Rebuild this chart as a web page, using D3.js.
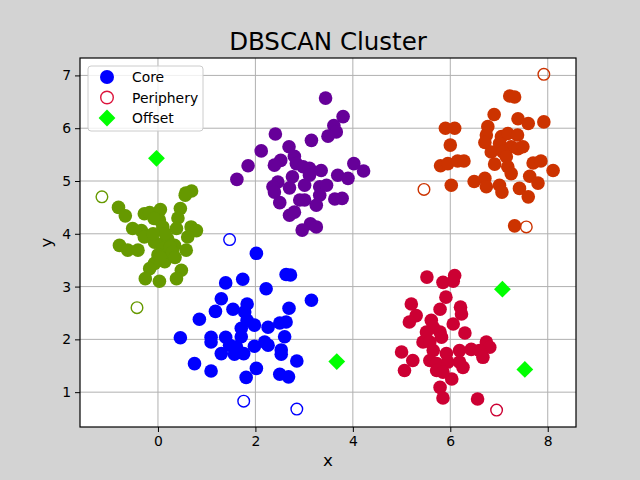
<!DOCTYPE html>
<html><head><meta charset="utf-8">
<script src="https://cdn.jsdelivr.net/npm/d3@7"></script>
<style>body{margin:0;background:#d3d3d3;} svg{display:block;}</style>
</head><body>
<svg id="chart" width="640" height="480"></svg>
<script>
const clusterColors = ["#669900", "#0000ff", "#660099", "#cc3300", "#cc0033"];
const xTicks = [0, 2, 4, 6, 8];
const yTicks = [1, 2, 3, 4, 5, 6, 7];
const legendLabels = ["Core", "Periphery", "Offset"];

const greenCore = [[0.57,4.77],[0.69,4.81],[0.56,4.73],[-0.81,4.50],[-0.67,4.34],[-0.28,4.38],[-0.17,4.40],[0.05,4.46],[0.46,4.48],[0.41,4.30],[0.03,4.26],[-0.08,4.29],[-0.52,4.10],[-0.34,4.06],[0.10,4.13],[0.38,4.10],[0.68,4.13],[0.79,4.06],[0.61,3.94],[-0.28,3.94],[-0.79,3.78],[-0.62,3.69],[-0.41,3.69],[-0.07,3.84],[0.14,3.84],[0.34,3.78],[0.07,3.66],[0.27,3.59],[0.58,3.69],[0.14,3.47],[-0.07,3.44],[-0.17,3.34],[0.48,3.31],[0.38,3.15],[-0.26,3.15],[0.03,3.10],[0.2,3.9],[0.1,3.72],[0.25,3.75],[0.3,3.65],[0.0,3.6],[0.15,4.0],[-0.1,4.0],[0.35,3.55],[0.05,3.55]];
const blueCore = [[2.02,3.63],[2.63,3.23],[2.72,3.22],[1.74,3.14],[1.39,3.07],[2.22,2.96],[3.15,2.74],[1.30,2.77],[1.83,2.67],[1.54,2.57],[1.18,2.53],[2.69,2.59],[1.78,2.52],[0.85,2.38],[1.83,2.36],[1.98,2.27],[1.71,2.21],[2.26,2.23],[2.50,2.31],[2.63,2.33],[0.46,2.03],[1.09,2.04],[1.09,1.95],[1.39,2.04],[1.71,2.05],[2.60,2.05],[1.47,1.89],[1.61,1.86],[1.98,1.87],[2.26,1.89],[2.19,1.95],[1.30,1.73],[1.57,1.72],[1.76,1.73],[2.53,1.80],[2.53,1.72],[2.85,1.59],[0.75,1.54],[1.09,1.40],[2.02,1.45],[1.81,1.28],[2.50,1.34],[2.68,1.29]];
const purpleCore = [[3.44,6.57],[3.80,6.22],[3.61,6.05],[3.66,5.93],[3.49,5.85],[2.41,5.89],[3.15,5.77],[2.69,5.65],[2.12,5.57],[2.80,5.47],[2.52,5.39],[2.39,5.30],[1.85,5.29],[2.84,5.33],[2.98,5.27],[3.11,5.24],[3.35,5.20],[4.02,5.33],[4.22,5.19],[1.62,5.03],[2.46,4.98],[2.76,5.08],[3.11,5.11],[3.69,5.11],[3.90,5.05],[2.36,4.89],[2.70,4.87],[3.01,4.92],[3.32,4.89],[3.46,4.92],[2.39,4.79],[2.91,4.64],[3.01,4.64],[3.32,4.73],[3.63,4.66],[3.78,4.67],[2.50,4.59],[3.25,4.54],[2.70,4.35],[2.80,4.41],[3.13,4.19],[3.25,4.13],[2.96,4.07]];
const orangeCore = [[7.22,6.61],[7.32,6.59],[6.90,6.26],[7.39,6.18],[7.60,6.09],[7.92,6.12],[5.90,6.00],[6.09,6.00],[6.77,6.03],[6.74,5.87],[7.05,5.84],[7.18,5.90],[7.38,5.87],[6.71,5.73],[7.01,5.71],[7.25,5.65],[6.00,5.68],[6.84,5.55],[7.08,5.55],[7.39,5.61],[7.49,5.65],[7.15,5.46],[5.80,5.29],[5.95,5.33],[6.15,5.38],[6.28,5.38],[6.91,5.32],[7.18,5.27],[7.25,5.14],[7.70,5.34],[7.86,5.38],[8.11,5.20],[7.63,5.09],[7.80,4.96],[6.49,4.99],[6.71,5.05],[6.74,4.89],[7.01,4.92],[7.06,4.79],[6.02,4.92],[7.42,4.86],[7.60,4.70],[7.32,4.15]];
const crimsonCore = [[5.52,3.18],[5.85,3.08],[6.09,3.21],[6.06,3.10],[5.91,2.80],[5.20,2.67],[5.30,2.45],[5.16,2.33],[5.79,2.57],[6.21,2.61],[6.23,2.48],[5.61,2.36],[5.65,2.23],[6.06,2.29],[6.30,2.12],[5.79,2.14],[5.51,2.14],[5.82,2.04],[5.44,1.95],[5.58,1.95],[6.74,1.95],[6.81,1.85],[5.00,1.76],[5.23,1.60],[5.06,1.41],[5.65,1.79],[5.92,1.73],[6.19,1.79],[6.43,1.81],[6.60,1.79],[6.67,1.66],[5.58,1.60],[5.72,1.54],[5.95,1.57],[6.19,1.57],[6.26,1.47],[5.72,1.41],[6.03,1.25],[5.85,1.38],[5.79,1.09],[5.85,0.89],[6.56,0.87]];
const coreSets = [greenCore, blueCore, purpleCore, orangeCore, crimsonCore];

// periphery points: [x, y, cluster index]
const periphery = [[-1.15,4.70,0],[-0.43,2.60,0],[1.47,3.89,1],[1.76,0.83,1],[2.85,0.68,1],[5.46,4.84,3],[7.56,4.13,3],[7.92,7.02,3],[6.95,0.66,4]];
const offsets = [[-0.03,5.43],[3.67,1.58],[7.07,2.95],[7.53,1.43]];

const svg = d3.select("#chart");
const L = 80, R = 576, T = 58, B = 427;
const x = d3.scaleLinear().domain([-1.6, 8.58]).range([L, R]);
const y = d3.scaleLinear().domain([0.34, 7.33]).range([B, T]);
const font = "DejaVu Sans, sans-serif";

svg.append("rect").attr("x", L).attr("y", T).attr("width", R - L).attr("height", B - T).attr("fill", "#fff");

// grid
const g = svg.append("g");
g.selectAll(".gx").data(xTicks).join("line").attr("x1", d => x(d)).attr("x2", d => x(d)).attr("y1", T).attr("y2", B).attr("stroke", "#b0b0b0").attr("stroke-width", 1);
g.selectAll(".gy").data(yTicks).join("line").attr("y1", d => y(d)).attr("y2", d => y(d)).attr("x1", L).attr("x2", R).attr("stroke", "#b0b0b0").attr("stroke-width", 1);

const r = 6.8;
coreSets.forEach((pts, i) => {
  svg.append("g").selectAll("circle").data(pts).join("circle")
    .attr("cx", d => x(d[0])).attr("cy", d => y(d[1])).attr("r", r)
    .attr("fill", clusterColors[i]);
});
svg.append("g").selectAll("circle").data(periphery).join("circle")
  .attr("cx", d => x(d[0])).attr("cy", d => y(d[1])).attr("r", 5.8)
  .attr("fill", "none").attr("stroke", d => clusterColors[d[2]]).attr("stroke-width", 1.4);
const diamond = d3.symbol().type(d3.symbolDiamond2).size(180);
svg.append("g").selectAll("path").data(offsets).join("path")
  .attr("transform", d => `translate(${x(d[0])},${y(d[1])})`)
  .attr("d", diamond).attr("fill", "#00ff00");

// axes
const xa = svg.append("g").attr("transform", `translate(0,${B})`).call(d3.axisBottom(x).tickValues(xTicks).tickFormat(d3.format("d")).tickSize(5).tickPadding(4));
const ya = svg.append("g").attr("transform", `translate(${L},0)`).call(d3.axisLeft(y).tickValues(yTicks).tickFormat(d3.format("d")).tickSize(5).tickPadding(4));
[xa, ya].forEach(a => {
  a.select(".domain").remove();
  a.selectAll("text").attr("font-family", font).attr("font-size", 13.9).attr("fill", "#000");
  a.selectAll("line").attr("stroke", "#000");
});
svg.append("rect").attr("x", L).attr("y", T).attr("width", R - L).attr("height", B - T).attr("fill", "none").attr("stroke", "#000").attr("stroke-width", 1.2);

svg.append("text").attr("x", (L + R) / 2).attr("y", 50).attr("text-anchor", "middle").attr("font-family", font).attr("font-size", 24.5).text("DBSCAN Cluster");
svg.append("text").attr("x", (L + R) / 2).attr("y", 466).attr("text-anchor", "middle").attr("font-family", font).attr("font-size", 16.7).text("x");
svg.append("text").attr("transform", `translate(52,${(T + B) / 2}) rotate(-90)`).attr("text-anchor", "middle").attr("font-family", font).attr("font-size", 16.7).text("y");

// legend
const lg = svg.append("g");
lg.append("rect").attr("x", 88).attr("y", 66).attr("width", 115).attr("height", 65).attr("rx", 3).attr("fill", "#fff").attr("fill-opacity", 0.8).attr("stroke", "#cccccc");
legendLabels.forEach((lab, i) => {
  const cy = 77 + i * 20.5;
  if (i === 0) lg.append("circle").attr("cx", 107).attr("cy", cy).attr("r", 7).attr("fill", "#0000ff");
  if (i === 1) lg.append("circle").attr("cx", 107).attr("cy", cy).attr("r", 6.3).attr("fill", "none").attr("stroke", "#dc143c").attr("stroke-width", 1.4);
  if (i === 2) lg.append("path").attr("transform", `translate(107,${cy})`).attr("d", d3.symbol().type(d3.symbolDiamond2).size(180)).attr("fill", "#00ff00");
  lg.append("text").attr("x", 132).attr("y", cy + 5).attr("font-family", font).attr("font-size", 13.9).text(lab);
});
</script>
</body></html>
